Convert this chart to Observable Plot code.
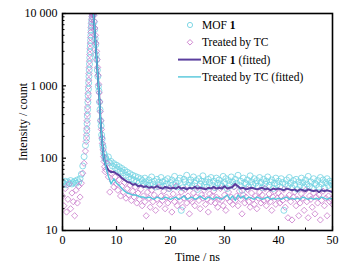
<!DOCTYPE html>
<html><head><meta charset="utf-8">
<script src="https://cdn.jsdelivr.net/npm/d3@7"></script>
<script src="https://cdn.jsdelivr.net/npm/@observablehq/plot@0.6"></script>
<style>
html,body{margin:0;padding:0;background:#fff;}
#chart{width:353px;height:267px;}
#chart svg, #chart svg text, #chart svg tspan{font-family:"Liberation Serif","Times New Roman",serif !important;}
</style></head><body><div id="chart"></div>
<script>
// ---- time grids (regular sampling) ----
const preTime = d3.range(0, 4.5, 0.25);      // 0 .. 4.25  (18)
const postTime = d3.range(8, 50.001, 0.25);  // 8 .. 50    (169)
const fitTime = d3.range(8, 50.001, 0.5);    // 8 .. 50    (85)

// ---- MOF 1 (circles) ----
const mofPre = [46,44,48,43,47,45,49,44,46,48,45,50,47,52,60,78,105,150];
const mofPeakTime = [4.45,4.5,4.55,4.6,4.65,4.7,4.75,4.8,4.85,4.9,4.95,5.0,5.05,5.1,5.15,5.2,5.25,5.3,5.35,5.4,5.45,5.5,5.55,5.6,5.65,
  5.75,5.85,5.95,6.05,6.15,6.25,6.35,6.45,6.55,6.65,6.75,6.85,6.95,7.05,7.15,7.25,7.35,7.45,7.55,7.65,7.75,7.85,7.95];
const mofPeak = [190,240,300,380,470,590,730,900,1100,1350,1650,2000,2450,2950,3550,4250,5000,5850,6700,7600,8400,9100,9600,9900,10000,
  9800,7600,6000,4500,3700,2700,2300,1650,1350,980,850,600,470,330,280,210,185,150,140,118,112,98,102];
const mofPost = [
  100,92,104,86,90,78,84,74,
  80,70,76,66,72,63,68,58,
  64,55,61,52,58,50,56,48,
  54,46,52,49,44,53,47,42,
  50,45,55,43,48,40,51,46,
  42,54,47,41,49,44,52,38,
  46,50,43,56,45,40,49,53,
  19,39,51,47,58,42,46,50,
  41,55,45,49,37,52,44,48,
  57,43,47,40,51,46,54,42,
  48,39,53,45,50,44,41,56,
  46,52,38,49,43,55,47,41,
  51,45,58,42,48,36,53,46,
  44,50,40,57,47,43,52,45,
  49,41,54,46,39,51,44,48,
  55,42,47,50,38,45,53,43,
  48,40,52,46,19,44,50,41,
  54,45,39,49,43,51,37,47,
  42,53,46,40,50,44,56,41,
  47,38,52,45,43,49,40,54,
  44,50,39,46,52,42,48,45,
  43];

// ---- Treated by TC (diamonds) ----
const trtPre = [30,22,38,18,27,44,20,33,25,16,36,24,41,29,45,62,85,125];
const trtPeakTime = [4.4,4.45,4.5,4.55,4.6,4.65,4.7,4.75,4.8,4.85,4.9,4.95,5.0,5.05,5.1,5.15,5.2,5.25,5.3,5.35,5.4,5.45,5.5,5.55,5.6,
  5.7,5.8,5.9,6.0,6.1,6.2,6.3,6.4,6.5,6.6,6.7,6.8,6.9,7.0,7.1,7.2,7.3,7.4,7.5,7.6,7.7,7.8,7.9];
const trtPeak = [170,210,260,330,410,510,640,790,980,1200,1480,1800,2200,2700,3250,3900,4650,5500,6400,7300,8200,9000,9600,9900,10000,
  10000,9400,7800,6300,5000,3900,3000,2300,1800,1400,1050,800,600,440,330,250,190,160,130,105,90,76,65];
const trtPost = [
  70,85,55,34,62,48,40,55,
  44,36,50,30,41,34,46,28,
  38,31,42,26,35,29,40,24,
  33,27,37,22,30,25,16,34,
  28,21,36,25,31,19,27,40,
  23,30,26,35,20,29,24,38,
  27,18,32,25,41,22,29,26,
  34,21,28,37,24,30,17,27,
  25,33,22,29,39,26,20,31,
  28,36,23,27,18,32,25,30,
  35,24,29,21,27,38,26,22,
  31,19,28,34,25,29,23,40,
  26,30,22,35,27,17,31,24,
  29,37,25,21,33,27,23,30,
  20,28,34,24,31,26,38,22,
  27,32,25,19,29,35,23,28,
  33,24,30,26,37,21,28,15,
  31,25,14,29,34,22,27,16,
  24,32,28,19,36,25,15,30,
  27,21,33,17,29,24,31,14,
  26,35,22,28,16,30,25,27,
  23];

// ---- fitted curves ----
const fitDecayTime = [5.7,5.8,5.9,6.0,6.1,6.2,6.3,6.4,6.5,6.6,6.7,6.8,6.9,7.0,7.1,7.2,7.3,7.4,7.5,7.6,7.7,7.8,7.9];
const fitDecay = [10000,8600,6800,5300,4100,3200,2500,1950,1500,1180,920,720,540,380,290,225,180,150,128,112,100,91,84];
const mofFitPost = [
  79,68,64,65,61,58,53,50,47,46,43,44,41,42,40,41,39,40,39,41,39,38,40,39,38,
  39,38,40,38,39,37,39,38,40,38,39,38,37,39,38,40,38,39,38,41,
  38,39,40,44,41,38,39,37,38,39,38,37,38,39,37,38,36,38,37,38,
  37,36,38,37,36,37,35,37,36,35,37,36,35,36,34,36,35,36,35,34];
const trtFitPost = [
  76,56,44,52,45,42,38,35,33,32,31,31,30,29,29,28,29,28,27,29,28,27,29,28,27,
  28,29,27,28,30,27,28,29,27,28,30,28,27,29,28,27,29,28,27,29,
  31,27,30,26,31,28,30,27,29,28,27,29,28,27,28,29,27,28,27,28,
  27,28,29,27,28,27,28,27,29,28,27,28,27,28,27,29,28,27,28,27];

// ---- ticks ----
const xTicks = [0,10,20,30,40,50];
const xMinor = [5,15,25,35,45];
const yTicks = [10,100,1000,10000];
const yMinor = [2,3,4,5,6,7,8,9].flatMap(m => [10,100,1000].map(d => m*d));

const pts = (ts, vs) => ts.map((t,i) => ({t, v: vs[i]}));
const mofData = [...pts(preTime, mofPre), ...pts(mofPeakTime, mofPeak), ...pts(postTime, mofPost)];
const trtData = [...pts(preTime, trtPre), ...pts(trtPeakTime, trtPeak), ...pts(postTime, trtPost)];
const mofFit = [...pts(fitDecayTime, fitDecay), ...pts(fitTime, mofFitPost)];
const trtFit = [...pts(fitDecayTime, fitDecay), ...pts(fitTime, trtFitPost)];

const serif = "Liberation Serif, Times New Roman, serif";
const C_CIRCLE = "#72d3e2", C_DIAMOND = "#c97acb", C_PURPLE = "#5a3e9e", C_CYAN = "#52c6da";
const W = 353, H = 267, ML = 62, MR = 21, MT = 13, MB = 37;
const FW = W - ML - MR, FH = H - MT - MB;
const fmt = d => d3.format(",")(d).replace(/,/g, " ");

const chart = Plot.plot({
  width: W, height: H,
  marginLeft: ML, marginRight: MR, marginTop: MT, marginBottom: MB,
  style: {fontFamily: serif, fontSize: "12px", color: "#000", background: "#fff"},
  x: {domain: [0, 50]},
  y: {type: "log", domain: [10, 10000]},
  marks: [
    Plot.dot(mofData, {x: "t", y: "v", symbol: "circle", r: 3, stroke: C_CIRCLE, fill: "none", strokeWidth: 0.8, clip: true}),
    Plot.dot(trtData, {x: "t", y: "v", symbol: "diamond2", r: 2.8, stroke: C_DIAMOND, fill: "none", strokeWidth: 0.8, clip: true}),
    Plot.line(mofFit, {x: "t", y: "v", stroke: C_PURPLE, strokeWidth: 2, clip: true}),
    Plot.line(trtFit, {x: "t", y: "v", stroke: C_CYAN, strokeWidth: 1.4, clip: true}),
    Plot.axisX({ticks: xTicks, tickSize: 0, tickPadding: 5, label: "Time / ns", labelAnchor: "center", labelArrow: "none", labelOffset: 30}),
    Plot.axisY({ticks: yTicks, tickSize: 0, tickPadding: 5, tickFormat: fmt, label: "Intensity / count", labelAnchor: "center", labelArrow: "none", labelOffset: 44}),
    Plot.ruleX(xTicks, {x: d => d, insetTop: FH - 4, stroke: "#000", strokeWidth: 1.2}),
    Plot.ruleX(xMinor, {x: d => d, insetTop: FH - 2.5, stroke: "#000", strokeWidth: 1}),
    Plot.ruleY(yTicks, {y: d => d, insetRight: FW - 4, stroke: "#000", strokeWidth: 1.2}),
    Plot.ruleY(yMinor, {y: d => d, insetRight: FW - 2.5, stroke: "#000", strokeWidth: 1}),
    Plot.frame({stroke: "#000", strokeWidth: 1.6})
  ]
});

// ---- legend (inside the frame, top-right) ----
const svg = d3.select(chart);
svg.attr("font-family", serif);
const g = svg.append("g").attr("font-family", serif).attr("font-size", 11.5).attr("fill", "#000").attr("text-anchor", "start");
const items = [
  {type: "circle", parts: [["MOF ", false], ["1", true]]},
  {type: "diamond", parts: [["Treated by TC", false]]},
  {type: "lineP", parts: [["MOF ", false], ["1", true], [" (fitted)", false]]},
  {type: "lineC", parts: [["Treated by TC (fitted)", false]]}
];
items.forEach((it, i) => {
  const y = 25 + i * 17.3;
  if (it.type === "circle") {
    g.append("circle").attr("cx", 190).attr("cy", y).attr("r", 2.6).attr("fill", "none").attr("stroke", C_CIRCLE).attr("stroke-width", 0.9);
  } else if (it.type === "diamond") {
    g.append("path").attr("d", d3.symbol(d3.symbolDiamond2, Math.PI * 2.5 * 2.5)()).attr("transform", `translate(190,${y})`).attr("fill", "none").attr("stroke", C_DIAMOND).attr("stroke-width", 0.9);
  } else {
    g.append("line").attr("x1", 178).attr("x2", 201).attr("y1", y).attr("y2", y)
      .attr("stroke", it.type === "lineP" ? C_PURPLE : C_CYAN).attr("stroke-width", it.type === "lineP" ? 2 : 1.4);
  }
  const t = g.append("text").attr("x", 202).attr("y", y).attr("dy", "0.35em");
  it.parts.forEach(([s, b]) => t.append("tspan").attr("font-weight", b ? "bold" : null).text(s));
});
svg.selectAll("text").attr("font-family", serif);

document.getElementById("chart").appendChild(chart);
</script>
</body></html>
